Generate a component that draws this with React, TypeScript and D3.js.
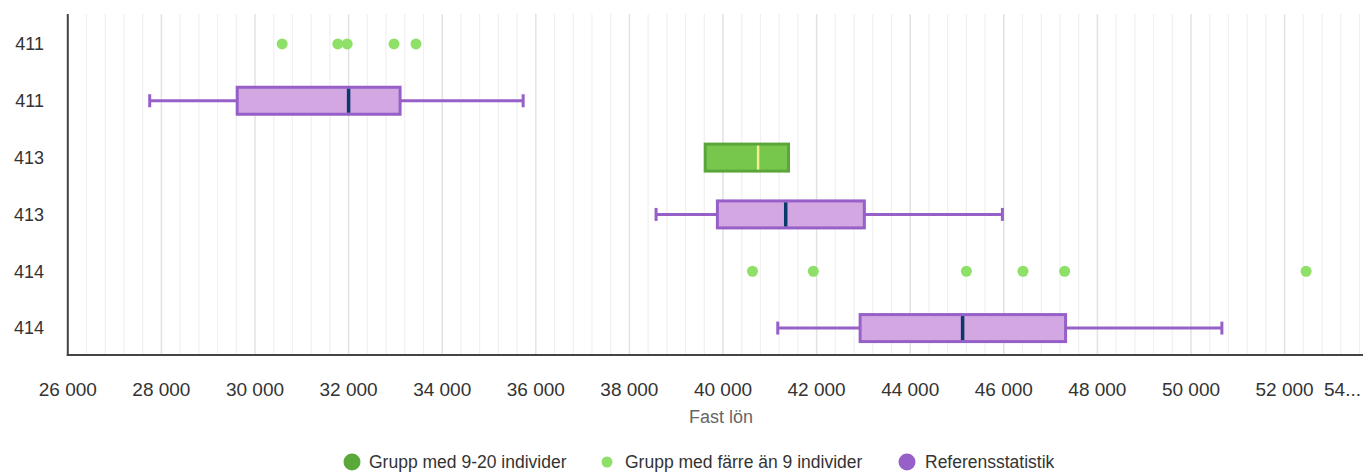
import React from "react";
import * as d3 from "d3";

const rowLabels = ["411", "411", "413", "413", "414", "414"];
// row kinds: dots (small groups), ref box, green box
const rowKinds = ["dots", "ref", "green", "ref", "dots", "ref"];

const smallGroupDots: number[][] = [
  [30580, 31770, 31970, 32970, 33440],
  [],
  [],
  [],
  [40630, 41930, 45200, 46410, 47300, 52460],
  [],
];

// [min, q1, median, q3, max]
const boxStats: (number[] | null)[] = [
  null,
  [27750, 29620, 32000, 33100, 35730],
  [39620, 39620, 40750, 41400, 41400],
  [38570, 39880, 41340, 43020, 45970],
  null,
  [41170, 42930, 45120, 47320, 50660],
];

const xTicks = [26000, 28000, 30000, 32000, 34000, 36000, 38000, 40000, 42000, 44000, 46000, 48000, 50000, 52000, 54000];
const legendItems = [
  { label: "Grupp med 9-20 individer", kind: "green" },
  { label: "Grupp med färre än 9 individer", kind: "dots" },
  { label: "Referensstatistik", kind: "ref" },
];

const W = 1363;
const H = 472;
const plotLeft = 67.8;
const plotTop = 14;
const plotBottom = 355;
const FONT = "'Liberation Sans', Arial, sans-serif";

const locale = d3.formatLocale({ decimal: ",", thousands: " ", grouping: [3], currency: ["", " kr"] });
const fmt = locale.format(",.0f");

export default function App() {
  const x = d3.scaleLinear().domain([26000, 54000]).range([plotLeft, plotLeft + 14 * 93.6]);
  const y = d3
    .scaleBand<number>()
    .domain(rowLabels.map((_, i) => i))
    .range([15.5, 356.5])
    .padding(0);
  const bh = 27;
  const minorTicks = d3.range(26000, 54001, 400);

  const colors = {
    refFill: "#d3a7e2",
    refStroke: "#9660c8",
    median: "#0b3a6a",
    greenFill: "#76c74b",
    greenStroke: "#5ba53a",
    greenMedian: "#f3f08e",
    dot: "#8fe068",
    legendGreen: "#5aa839",
    legendPurple: "#9660c8",
  };

  return (
    <svg width={W} height={H} style={{ position: "absolute", left: 0, top: 0, background: "#fff" }} fontFamily={FONT}>
      {/* grid */}
      {minorTicks.map((t) => {
        const major = t % 2000 === 0;
        return (
          <line
            key={"g" + t}
            x1={x(t)}
            x2={x(t)}
            y1={plotTop}
            y2={plotBottom}
            stroke={major ? "#e2e2e2" : "#f0f0f0"}
            strokeWidth={major ? 1.5 : 1.2}
          />
        );
      })}

      {/* boxes */}
      {boxStats.map((s, i) => {
        if (!s) return null;
        const cy = (y(i) as number) + y.bandwidth() / 2;
        const isGreen = rowKinds[i] === "green";
        const [mn, q1, md, q3, mx] = s;
        const stroke = isGreen ? colors.greenStroke : colors.refStroke;
        return (
          <g key={"b" + i}>
            {!isGreen && (
              <g stroke={stroke} strokeWidth={3}>
                <line x1={x(mn)} x2={x(q1)} y1={cy} y2={cy} />
                <line x1={x(q3)} x2={x(mx)} y1={cy} y2={cy} />
                <line x1={x(mn)} x2={x(mn)} y1={cy - 6.5} y2={cy + 6.5} />
                <line x1={x(mx)} x2={x(mx)} y1={cy - 6.5} y2={cy + 6.5} />
              </g>
            )}
            <rect
              x={x(q1)}
              y={cy - bh / 2}
              width={x(q3) - x(q1)}
              height={bh}
              fill={isGreen ? colors.greenFill : colors.refFill}
              stroke={stroke}
              strokeWidth={3}
            />
            <line
              x1={x(md)}
              x2={x(md)}
              y1={cy - bh / 2 + 1.5}
              y2={cy + bh / 2 - 1.5}
              stroke={isGreen ? colors.greenMedian : colors.median}
              strokeWidth={isGreen ? 2.5 : 3.5}
            />
          </g>
        );
      })}

      {/* dots */}
      {smallGroupDots.map((vals, i) => {
        const cy = (y(i) as number) + y.bandwidth() / 2;
        return vals.map((v, j) => <circle key={`d${i}-${j}`} cx={x(v)} cy={cy} r={5.5} fill={colors.dot} />);
      })}

      {/* axes */}
      <line x1={plotLeft} x2={plotLeft} y1={plotTop} y2={plotBottom + 1} stroke="#444" strokeWidth={2} />
      <line x1={plotLeft - 1} x2={W} y1={plotBottom} y2={plotBottom} stroke="#444" strokeWidth={2} />

      {/* y labels */}
      {rowLabels.map((l, i) => (
        <text
          key={"y" + i}
          x={44}
          y={(y(i) as number) + y.bandwidth() / 2}
          dy="0.35em"
          textAnchor="end"
          fontSize={18}
          fill="#333"
        >
          {l}
        </text>
      ))}

      {/* x tick labels */}
      {xTicks.map((t) => {
        const label = fmt(t);
        const overflow = x(t) + 28 > W;
        return overflow ? (
          <text key={"x" + t} x={W - 2} y={396} textAnchor="end" fontSize={19} fill="#333">
            {label.slice(0, 2) + "..."}
          </text>
        ) : (
          <text key={"x" + t} x={x(t)} y={396} textAnchor="middle" fontSize={19} fill="#333">
            {label}
          </text>
        );
      })}

      <text x={721} y={423} textAnchor="middle" fontSize={18} fill="#666">
        Fast lön
      </text>

      {/* legend */}
      {legendItems.map((it, i) => {
        const cx = [352, 607, 907][i];
        const tx = [369, 625, 925][i];
        const r = it.kind === "dots" ? 5.5 : 8.5;
        const fill = it.kind === "green" ? colors.legendGreen : it.kind === "dots" ? colors.dot : colors.legendPurple;
        return (
          <g key={"l" + i}>
            <circle cx={cx} cy={462} r={r} fill={fill} />
            <text x={tx} y={468} fontSize={17.5} fill="#333">
              {it.label}
            </text>
          </g>
        );
      })}
    </svg>
  );
}
